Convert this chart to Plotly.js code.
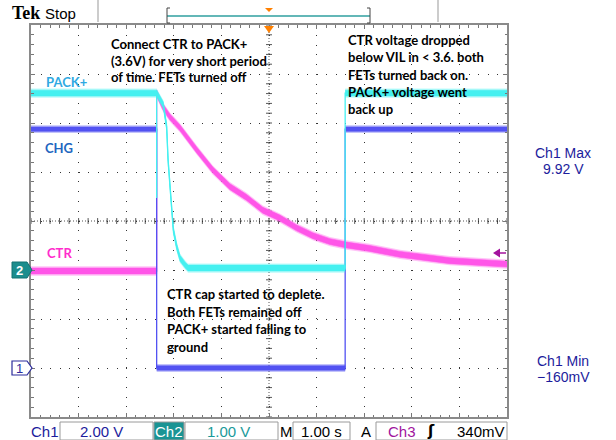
<!DOCTYPE html>
<html><head><meta charset="utf-8">
<script src="https://cdn.plot.ly/plotly-3.0.1.min.js"></script>
<style>html,body{margin:0;padding:0;background:#fff}#chart{width:616px;height:440px}</style>
</head><body><div id="chart"></div>
<script>
// ---- data (time in s, 1.00 s/div, trigger at centre; values in volts) ----
const chgTime  = [-5.00, -2.36, -2.36, 1.60, 1.60, 5.00];
const chgVolts = [ 9.75,  9.75,  0.00, 0.00, 9.75, 9.75];

const packTime  = [-5.00, -2.36, -2.36, -2.36, -2.22, -2.15, -2.12, -2.08, -2.04, -2.01, -1.94, -1.87, -1.76, -1.70, 1.60, 1.60, 5.00];
const packVolts = [ 3.61,  3.61,  1.47,  3.61,  3.37,  2.92,  2.24,  1.70,  1.22,  0.82,  0.48,  0.24,  0.10,  0.04, 0.04, 3.61, 3.61];

const ctrTime  = [-5.00, -2.36, -2.36, -2.23, -2.08, -1.87, -1.52, -1.18, -0.82, -0.47, -0.13, 0.23, 0.58, 0.92, 1.28, 1.63, 2.12, 2.75, 3.80, 5.00];
const ctrVolts = [-0.02, -0.02,  3.61,  3.33,  3.12,  2.90,  2.45,  2.04,  1.70,  1.48,  1.22, 1.06, 0.86, 0.70, 0.58, 0.51, 0.44, 0.32, 0.19, 0.12];

// channel settings: volts/div and ground position (div from centre)
const ch1 = {scale: 2.00, ground: -3};
const ch2 = {scale: 1.00, ground: -1};
const ch3 = {scale: 1.00, ground: -1};

const statusTexts = {ch1: "2.00 V", ch2: "1.00 V", time: "1.00 s", trig: "340mV"};
const measTexts = ["Ch1 Max", "9.92 V", "Ch1 Min", "\u2212160mV"];

// ---- helpers ----
const L = 31, R = 507, T = 25, B = 417;
const P = px => (px - L) / (R - L);
const Q = py => (B - py) / (B - T);
const toDiv = (vals, ch) => vals.map(v => v / ch.scale + ch.ground);

function band(t, d, hw) {
  const xs = [], ys = [];
  let start = 0;
  const flush = (a, b) => {
    if (b - a < 1) return;
    for (let i = a; i <= b; i++) { xs.push(t[i]); ys.push(d[i] + hw); }
    for (let i = b; i >= a; i--) { xs.push(t[i]); ys.push(d[i] - hw); }
    xs.push(null); ys.push(null);
  };
  for (let i = 1; i < t.length; i++) {
    if (t[i] === t[i - 1]) { flush(start, i - 1); start = i; }
  }
  flush(start, t.length - 1);
  return {xs, ys};
}

function channel(t, v, ch, color, hw) {
  const d = toDiv(v, ch);
  const outer = band(t, d, hw + 0.035);
  const inner = band(t, d, hw);
  return [
    {x: t, y: d, mode: 'lines', line: {color: color, width: 1.3}, hoverinfo: 'skip'},
    {x: outer.xs, y: outer.ys, mode: 'lines', fill: 'toself', fillcolor: color, opacity: 0.35,
     line: {color: color, width: 0}, hoverinfo: 'skip'},
    {x: inner.xs, y: inner.ys, mode: 'lines', fill: 'toself', fillcolor: color,
     line: {color: color, width: 0.6}, hoverinfo: 'skip'}
  ];
}

const cCHG = '#5252f2', cPACK = '#45f0f0', cCTR = '#ff55e8';
const data = [
  ...channel(ctrTime, ctrVolts, ch3, cCTR, 0.06),
  ...channel(chgTime, chgVolts, ch1, cCHG, 0.045),
  ...channel(packTime, packVolts, ch2, cPACK, 0.06)
];

// ---- shapes ----
const shapes = [];
const pathPx = (pts, close) => 'M' + pts.map(p => P(p[0]) + ',' + Q(p[1])).join(' L') + (close ? ' Z' : '');
// centre cross lines (fine dotted) with ticks
shapes.push({type: 'line', xref: 'x', yref: 'y', x0: -5, x1: 5, y0: 0, y1: 0, layer: 'below', line: {color: '#555', width: 1, dash: '1px,2px'}});
shapes.push({type: 'line', xref: 'x', yref: 'y', x0: 0, x1: 0, y0: -4, y1: 4, layer: 'below', line: {color: '#555', width: 1, dash: '1px,2px'}});
for (let k = -25; k <= 25; k++) {
  const x = k * 0.2;
  shapes.push({type: 'line', xref: 'x', yref: 'y', x0: x, x1: x, y0: -0.06, y1: 0.06, layer: 'below', line: {color: '#555', width: 1}});
}
for (let k = -20; k <= 20; k++) {
  const y = k * 0.2;
  shapes.push({type: 'line', xref: 'x', yref: 'y', x0: -0.063, x1: 0.063, y0: y, y1: y, layer: 'below', line: {color: '#555', width: 1}});
}
// orange trigger-position markers
shapes.push({type: 'path', xref: 'paper', yref: 'paper', path: pathPx([[264, 26], [274, 26], [269, 33]], true), fillcolor: '#ff8000', line: {width: 0}});
shapes.push({type: 'path', xref: 'paper', yref: 'paper', path: pathPx([[265, 8], [273, 8], [269, 12]], true), fillcolor: '#ff8000', line: {width: 0}});
// header separators and record bracket
shapes.push({type: 'line', xref: 'paper', yref: 'paper', x0: P(98), x1: P(98), y0: Q(0), y1: Q(22), line: {color: '#999', width: 1}});
shapes.push({type: 'line', xref: 'paper', yref: 'paper', x0: P(438), x1: P(438), y0: Q(0), y1: Q(22), line: {color: '#999', width: 1}});
shapes.push({type: 'line', xref: 'paper', yref: 'paper', x0: P(167), x1: P(370), y0: Q(16), y1: Q(16), line: {color: '#2f9f9f', width: 1.5}});
shapes.push({type: 'path', xref: 'paper', yref: 'paper', path: pathPx([[170, 8], [167, 8], [167, 23], [170, 23]], false), line: {color: '#444', width: 1}});
shapes.push({type: 'path', xref: 'paper', yref: 'paper', path: pathPx([[367, 8], [370, 8], [370, 23], [367, 23]], false), line: {color: '#444', width: 1}});
// channel ground markers
shapes.push({type: 'path', xref: 'paper', yref: 'paper', path: pathPx([[12, 262], [27, 262], [32, 270], [27, 278], [12, 278]], true), fillcolor: '#1b8d8d', line: {color: '#137272', width: 1}});
shapes.push({type: 'path', xref: 'paper', yref: 'paper', path: pathPx([[12, 361], [27, 361], [32, 368], [27, 375], [12, 375]], true), fillcolor: '#ffffff', line: {color: '#2b2b9c', width: 1.2}});
// trigger level marker (right)
shapes.push({type: 'path', xref: 'paper', yref: 'paper', path: pathPx([[493, 253], [500, 248.5], [500, 257.5]], true), fillcolor: '#a3129e', line: {width: 0}});
shapes.push({type: 'line', xref: 'paper', yref: 'paper', x0: P(499), x1: P(506), y0: Q(253), y1: Q(253), line: {color: '#a3129e', width: 1.5}});
// status bar boxes
const box = (x0, x1, fill) => ({type: 'rect', xref: 'paper', yref: 'paper', x0: P(x0), x1: P(x1), y0: Q(440), y1: Q(422), fillcolor: fill, line: {color: '#9a9a9a', width: 1}});
shapes.push(box(60, 153, '#fff'));
shapes.push(box(154, 184, '#1a9494'));
shapes.push(box(185, 278, '#fff'));
shapes.push(box(293, 350, '#fff'));
shapes.push(box(376, 507, '#fff'));

// ---- annotations ----
const ann = [];
const txt = (x, y, text, font, xanchor) => ann.push({xref: 'paper', yref: 'paper', x: P(x), y: Q(y), text: text,
  showarrow: false, xanchor: xanchor || 'left', yanchor: 'middle', borderpad: 0, font: font});
const noteFont = {family: 'Lato, "Open Sans", sans-serif', size: 13, color: '#000', weight: 700};
[["Connect CTR to PACK+", 44], ["(3.6V) for very short period", 61], ["of time. FETs turned off", 77.5]]
  .forEach(([s, y]) => txt(110, y, s, noteFont));
[["CTR voltage dropped", 40], ["below VIL in < 3.6. both", 57.3], ["FETs turned back on.", 74.5], ["PACK+ voltage went", 92], ["back up", 109]]
  .forEach(([s, y]) => txt(347, y, s, noteFont));
[["CTR cap started to deplete.", 294], ["Both FETs remained off", 311.5], ["PACK+ started falling to", 329], ["ground", 346.5]]
  .forEach(([s, y]) => txt(166, y, s, noteFont));
const labFont = c => ({family: 'Lato, "Open Sans", sans-serif', size: 13, color: c, weight: 700});
txt(45, 81.5, "PACK+", labFont('#2fa9e2'));
txt(44, 148, "CHG", labFont('#2266c0'));
txt(46, 253, "CTR", labFont('#ff2ccc'));
// header
txt(11, 13, "Tek", {family: '"Liberation Serif", serif', size: 18, color: '#000', weight: 700});
txt(44, 13.5, "Stop", {family: '"Liberation Sans", sans-serif', size: 15, color: '#000'});
// ground marker numbers
txt(19.5, 270, "2", {family: '"Liberation Sans", sans-serif', size: 13, color: '#fff', weight: 700}, 'center');
txt(19.5, 368, "1", {family: '"Liberation Sans", sans-serif', size: 13, color: '#2b2b9c'}, 'center');
// measurements
const measFont = {family: '"Liberation Sans", sans-serif', size: 14, color: '#1c1c9c'};
txt(563, 152.5, measTexts[0], measFont, 'center');
txt(563, 168.5, measTexts[1], measFont, 'center');
txt(563, 360.5, measTexts[2], measFont, 'center');
txt(563, 377, measTexts[3], measFont, 'center');
// status bar
const sf = c => ({family: '"Liberation Sans", sans-serif', size: 15, color: c});
txt(44.5, 431, "Ch1", sf('#1c1c9c'), 'center');
txt(101.5, 431, statusTexts.ch1, sf('#1c1c9c'), 'center');
txt(169, 431, "Ch2", sf('#ffffff'), 'center');
txt(228, 431, statusTexts.ch2, sf('#1a9a9a'), 'center');
txt(286, 431, "M", sf('#000'), 'center');
txt(321.5, 431, statusTexts.time, sf('#000'), 'center');
txt(366, 431, "A", sf('#000'), 'center');
txt(402, 431, "Ch3", sf('#a0149e'), 'center');
txt(431, 431, "\u0283", {family: '"DejaVu Sans", sans-serif', size: 15, color: '#000', weight: 700}, 'center');
txt(481, 431, statusTexts.trig, sf('#000'), 'center');

const layout = {
  width: 616, height: 440,
  margin: {l: L, r: 616 - R, t: T, b: 440 - B, pad: 0},
  paper_bgcolor: '#fff', plot_bgcolor: '#fff',
  showlegend: false,
  xaxis: {range: [-5, 5], dtick: 1, tick0: 0, showgrid: true, gridcolor: '#333', gridwidth: 1, griddash: '1px,8.78px',
    zeroline: false, showline: true, linecolor: '#8a8a8a', linewidth: 2, mirror: 'allticks',
    ticks: 'inside', ticklen: 4, tickcolor: '#777', tickwidth: 1, showticklabels: false, fixedrange: true,
    minor: {dtick: 0.2, ticks: 'inside', ticklen: 2.5, tickcolor: '#777', showgrid: false}},
  yaxis: {range: [-4, 4], dtick: 1, tick0: 0, showgrid: true, gridcolor: '#333', gridwidth: 1, griddash: '1px,8.52px',
    zeroline: false, showline: true, linecolor: '#8a8a8a', linewidth: 2, mirror: 'allticks',
    ticks: 'inside', ticklen: 4, tickcolor: '#777', tickwidth: 1, showticklabels: false, fixedrange: true,
    minor: {dtick: 0.2, ticks: 'inside', ticklen: 2.5, tickcolor: '#777', showgrid: false}},
  shapes: shapes,
  annotations: ann
};

Plotly.newPlot('chart', data, layout, {displayModeBar: false, staticPlot: true});
</script>
</body></html>
